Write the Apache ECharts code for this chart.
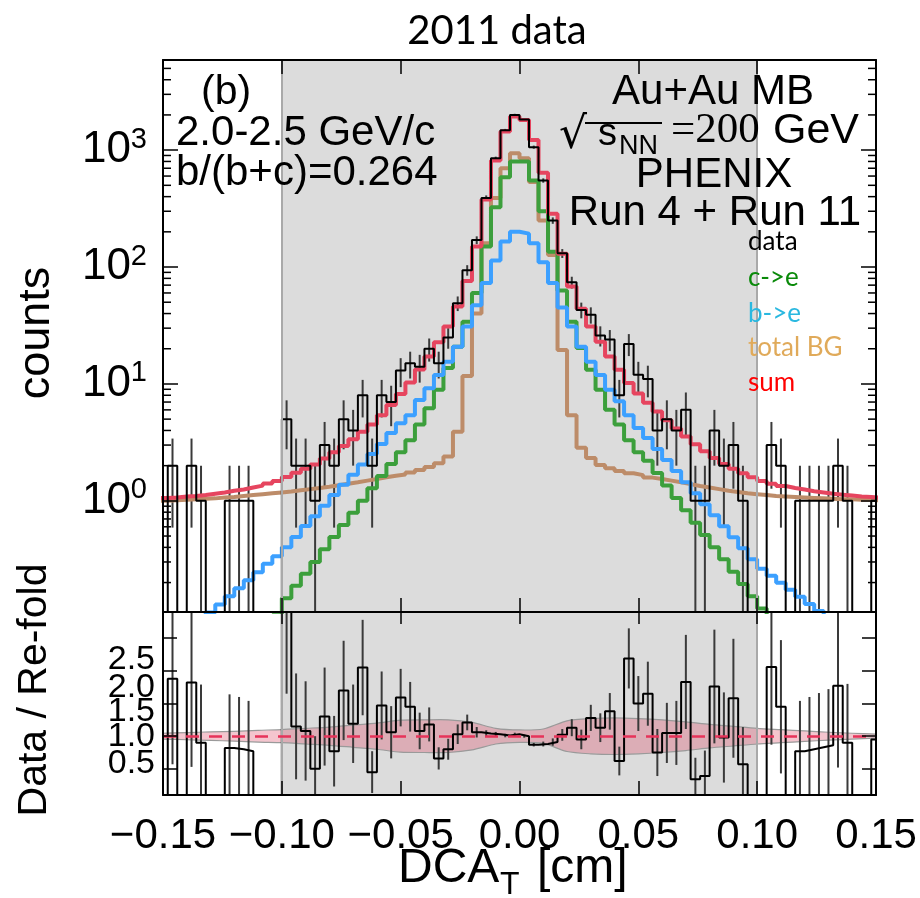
<!DOCTYPE html>
<html><head><meta charset="utf-8">
<script src="https://cdn.jsdelivr.net/npm/echarts@6/dist/echarts.min.js"></script>
<style>html,body{margin:0;padding:0;background:#fff}#c{width:920px;height:898px}</style>
</head><body><div id="c"></div>
<script>
// ---- binning (DCA_T, cm) ----
const binStart = -0.152;
const binWidth = 0.004;
// bins k = -38 .. 37 (lower edge = k*0.004)
const dataCounts = [0,2,0,2,1,0,0,1,1,1, 0,0,0,5,2,2,1,3,2,5, 4,8,2,8,7,13,15,14,20,15, 25,49,94,170,390,850,1480,2000,
  1830,1060,550,250,131,74,43,39,26,24, 8,22,12,11,4,5,4,6,1,1, 4,2,3,1,0,0,3,2,0,1, 1,1,1,2,1,0,0,1];
const dataErr = [0,1.41,0,1.41,1,0,0,1,1,1, 0,0,0,2.24,1.41,1.41,1,1.73,1.41,2.24, 2,2.83,1.41,2.83,2.65,3.61,3.87,3.74,4.47,3.87, 5,7,9.7,13,19.7,29.2,38.5,44.7,
  42.8,32.6,23.5,15.8,11.4,8.6,6.6,6.2,5.1,4.9, 2.83,4.69,3.46,3.32,2,2.24,2,2.45,1,1, 2,1.41,1.73,1,0,0,1.73,1.41,0,1, 1,1,1,1.41,1,0,0,1];
const sumFit = [1.06,1.07,1.09,1.10,1.12,1.15,1.18,1.22,1.25,1.30, 1.35,1.41,1.48,1.60,1.74,1.88,2.05,2.30,2.60,2.94, 3.36,3.9,4.5,5.4,6.6,8.2,10.3,13.3,17.2,22.7, 31,46,76,150,378,815,1440,1940,
  1810,1220,640,285,130,68,44,31,23,17.2, 13.2,10.2,8.3,6.9,5.8,4.9,4.15,3.55,3.05,2.65, 2.33,2.07,1.88,1.72,1.59,1.48,1.40,1.34,1.29,1.25, 1.21,1.18,1.15,1.13,1.11,1.09,1.08,1.06];
const bgTotal = [1.00,1.01,1.02,1.03,1.04,1.05,1.07,1.08,1.10,1.12, 1.14,1.16,1.18,1.20,1.23,1.26,1.29,1.32,1.36,1.40, 1.44,1.49,1.54,1.59,1.64,1.68,1.75,1.84,1.95,2.1, 2.4,3.9,11.7,40,160,390,700,940,
  850,533,250,127,19.5,5.4,2.84,2.33,2.03,1.9, 1.8,1.72,1.66,1.58,1.54,1.49,1.44,1.39,1.34,1.30, 1.26,1.22,1.19,1.16,1.14,1.12,1.10,1.09,1.08,1.07, 1.06,1.05,1.04,1.03,1.03,1.02,1.02,1.01];
const bToE = [0.05,0.058,0.068,0.08,0.094,0.111,0.130,0.153,0.179,0.209, 0.245,0.29,0.336,0.40,0.49,0.61,0.74,0.91,1.12,1.37, 1.67,2.05,2.52,3.07,3.8,4.6,5.4,7.3,9.2,11.9, 15.5,20.8,31,47,73,114,165,200,
  193,160,110,73,45,31,20.8,15.5,11.9,8.9, 7.1,5.4,4.2,3.45,2.78,2.24,1.80,1.44,1.16,0.935, 0.753,0.607,0.488,0.393,0.316,0.263,0.229,0.199,0.174,0.151, 0.131,0.114,0.099,0.086,0.075,0.065,0.056,0.049];
const cToE = [0.004,0.005,0.007,0.009,0.012,0.016,0.021,0.027,0.035,0.046, 0.06,0.075,0.105,0.147,0.188,0.238,0.30,0.385,0.49,0.62, 0.79,1.0,1.28,1.63,2.07,2.6,3.3,4.5,6.2,8.9, 13.7,20.8,34,60,150,325,585,800,
  800,550,300,135,63,34,20.3,13.2,8.9,6.0, 4.5,3.3,2.6,2.2,1.73,1.35,1.06,0.83,0.65,0.51, 0.40,0.316,0.247,0.194,0.153,0.12,0.094,0.074,0.058,0.045, 0.035,0.028,0.022,0.017,0.013,0.010,0.008,0.006];
const ratio = [0,1.88,0,1.82,0.90,0,0,0.82,0.80,0.77, 0,0,0,2.95,1.15,1.08,0.50,1.30,0.77,1.70, 1.19,2.05,0.45,1.47,1.06,1.59,1.45,1.08,1.18,0.66, 0.80,1.03,1.21,1.06,1.04,1.03,1.01,1.03,
  1.00,0.87,0.88,0.91,1.02,1.13,0.95,1.28,1.13,1.38, 0.62,2.19,1.50,1.65,0.75,1.05,1.05,1.83,0.34,0.39, 1.76,0.98,1.58,0.57,0,0,2.06,1.45,0,0.77, 0.80,0.83,0.86,1.77,0.90,0,0,0.95];
const ratioErr = [0,1.31,0,1.29,0.89,0,0,0.82,0.80,0.77, 0,0,0,1.30,0.81,0.76,0.50,0.75,0.54,0.76, 0.60,0.73,0.32,0.52,0.40,0.44,0.38,0.28,0.26,0.17, 0.16,0.15,0.12,0.08,0.05,0.035,0.027,0.023,
  0.023,0.027,0.037,0.056,0.09,0.13,0.15,0.20,0.22,0.28, 0.22,0.46,0.42,0.49,0.36,0.46,0.49,0.72,0.33,0.39, 0.87,0.69,0.91,0.57,0,0,1.19,1.02,0,0.77, 0.80,0.83,0.86,1.25,0.90,0,0,0.95];
// systematic band around 1 (half widths)
const bandX = [-0.15,-0.14,-0.13,-0.12,-0.11,-0.10,-0.09,-0.08,-0.07,-0.06,-0.05,-0.04,-0.03,-0.02,-0.01,0.00,0.01,0.02,0.03,0.04,0.05,0.06,0.07,0.08,0.09,0.10,0.11,0.12,0.13,0.14,0.15];
const bandHalf = [0.045,0.055,0.065,0.075,0.09,0.10,0.12,0.14,0.17,0.20,0.245,0.25,0.25,0.21,0.12,0.095,0.11,0.235,0.27,0.28,0.27,0.25,0.22,0.18,0.15,0.12,0.10,0.08,0.06,0.045,0.03];
const logMinorTicks = [0.2,0.3,0.4,0.5,0.6,0.7,0.8,0.9,2,3,4,5,6,7,8,9,20,30,40,50,60,70,80,90,200,300,400,500,600,700,800,900,2000,3000,4000,5000];
const ratioTickLabels = ['0.5','1.0','1.5','2.0','2.5'];
const legendItems = ['data','c->e','b->e','total BG','sum'];

// ---- helpers ----
const FLOOR = 1e-3;
function edge(i){ return binStart + i*binWidth; }
function center(i){ return binStart + (i+0.5)*binWidth; }
function stepPts(vals, logAxis){
  const p = vals.map((v,i)=>[edge(i), (logAxis && v<=0) ? FLOOR : (v<=0 ? 0 : v)]);
  p.push([edge(vals.length), p[p.length-1][1]]);
  return p;
}
const dataErrPts = [];
dataCounts.forEach((n,i)=>{ if(n>0){ const lo=n-dataErr[i]; dataErrPts.push([center(i), lo>0?lo:FLOOR, n+dataErr[i]]); }});
const ratioErrPts = [];
ratio.forEach((r,i)=>{ if(dataCounts[i]>0){ ratioErrPts.push([center(i), r-ratioErr[i], r+ratioErr[i]]); }});

const SANS = '"Liberation Sans", Arial, sans-serif';
const errRender = (color)=>function(params, api){
  const x=api.value(0), lo=api.value(1), hi=api.value(2);
  const a=api.coord([x,lo]), b=api.coord([x,hi]);
  return {type:'line', shape:{x1:a[0],y1:a[1],x2:b[0],y2:b[1]}, style:{stroke:color, lineWidth:2}};
};

const frameAxis = {
  type:'value', min:-0.15, max:0.15, interval:0.05, z:5,
  axisLine:{show:true, onZero:false, lineStyle:{color:'#000', width:2}},
  axisTick:{show:true, inside:true, length:14, lineStyle:{color:'#000', width:1.5}},
  axisLabel:{show:false}, splitLine:{show:false}
};
function xLabel(v){
  if (Math.abs(v) < 1e-9) return '0.00';
  return (v<0?'\u2212':'') + Math.abs(v).toFixed(2);
}
const yFrame = {
  axisLine:{show:true, onZero:false, lineStyle:{color:'#000', width:2}},
  axisTick:{show:true, inside:true, length:15, lineStyle:{color:'#000', width:1.5}},
  splitLine:{show:false}
};
// ROOT draws the crowded ratio labels slightly off their ticks: small per-label vertical offsets
const rLabStyle = {fontFamily:SANS, fontSize:34, color:'#000'};
const ratioRich = {
  r0:Object.assign({padding:[0,0,10,0]}, rLabStyle),
  r1:Object.assign({padding:[0,0,0,0]}, rLabStyle),
  r2:Object.assign({padding:[16,0,0,0]}, rLabStyle),
  r3:Object.assign({padding:[34,0,0,0]}, rLabStyle),
  r4:Object.assign({padding:[42,0,0,0]}, rLabStyle)
};
function ratioLabel(v){
  const s = v.toFixed(1); const i = ratioTickLabels.indexOf(s);
  return i < 0 ? '' : '{r'+i+'|'+s+'}';
}

const chart = echarts.init(document.getElementById('c'), null, {renderer:'canvas'});
const grayArea = {silent:true, itemStyle:{color:'#dcdcdc'}, data:[[{xAxis:-0.1},{xAxis:0.1}]]};
const grayEdges = {silent:true, symbol:'none', label:{show:false}, lineStyle:{color:'#a9a9a9', width:2, type:'solid'}, data:[{xAxis:-0.1},{xAxis:0.1}]};

chart.setOption({
  animation:false,
  backgroundColor:'#fff',
  grid:[
    {left:163, top:60, width:713, height:552, outerBoundsMode:'none', containLabel:false},
    {left:163, top:612, width:713, height:183, outerBoundsMode:'none', containLabel:false}
  ],
  xAxis:[
    Object.assign({}, frameAxis, {gridIndex:0, position:'bottom'}),
    Object.assign({}, frameAxis, {gridIndex:0, position:'top'}),
    Object.assign({}, frameAxis, {gridIndex:1, position:'bottom',
      axisLabel:{show:true, margin:20, formatter:xLabel, fontFamily:SANS, fontSize:42, color:'#000'}}),
    Object.assign({}, frameAxis, {gridIndex:1, position:'top', axisTick:{show:true, inside:true, length:12, lineStyle:{color:'#000', width:1.5}}})
  ],
  yAxis:[
    Object.assign({gridIndex:0, type:'log', logBase:10, min:0.112, max:5900, position:'left', z:5,
      axisLabel:{show:true, margin:16, showMinLabel:false, showMaxLabel:false,
        formatter:function(v){ const e=Math.log10(v); const r=Math.round(e); if(Math.abs(e-r)>1e-6) return ''; return '{b|10}{s|'+r+'}'; },
        rich:{b:{fontFamily:SANS, fontSize:44, color:'#000', lineHeight:50}, s:{fontFamily:SANS, fontSize:29, color:'#000', verticalAlign:'top', lineHeight:50}}}}, yFrame),
    Object.assign({gridIndex:0, type:'log', logBase:10, min:0.112, max:5900, position:'right', z:5, axisLabel:{show:false}}, yFrame),
    Object.assign({gridIndex:1, type:'value', min:0.1, max:2.9, splitNumber:5, position:'left', z:5,
      axisLabel:{show:true, margin:8, showMinLabel:false, showMaxLabel:false, formatter:ratioLabel, rich:ratioRich}},
      yFrame, {axisTick:{show:true, inside:true, length:14, lineStyle:{color:'#000', width:1.5}}}),
    Object.assign({gridIndex:1, type:'value', min:0.1, max:2.9, splitNumber:5, position:'right', z:5, axisLabel:{show:false}}, yFrame,
      {axisTick:{show:true, inside:true, length:14, lineStyle:{color:'#000', width:1.5}}})
  ],
  series:[
    // top panel
    {name:'total BG', type:'line', xAxisIndex:0, yAxisIndex:0, step:'end', symbol:'none', clip:true,
      data:stepPts(bgTotal,true), lineStyle:{color:'#bd8c69', width:4},
      markArea:grayArea, markLine:grayEdges},
    {name:'c->e', type:'line', xAxisIndex:0, yAxisIndex:0, step:'end', symbol:'none', clip:true,
      data:stepPts(cToE,true), lineStyle:{color:'#3c9f3c', width:4}},
    {name:'b->e', type:'line', xAxisIndex:0, yAxisIndex:0, step:'end', symbol:'none', clip:true,
      data:stepPts(bToE,true), lineStyle:{color:'#3ca0ff', width:4}},
    {name:'sum', type:'line', xAxisIndex:0, yAxisIndex:0, step:'end', symbol:'none', clip:true,
      data:stepPts(sumFit,true), lineStyle:{color:'#e6455f', width:4}},
    {name:'data err', type:'custom', xAxisIndex:0, yAxisIndex:0, clip:true,
      data:dataErrPts, encode:{x:0, y:[1,2]}, renderItem:errRender('#3a3a3a')},
    {name:'data', type:'line', xAxisIndex:0, yAxisIndex:0, step:'end', symbol:'none', clip:true,
      data:stepPts(dataCounts,true), lineStyle:{color:'#000', width:2}},
    {name:'minor ticks', type:'custom', xAxisIndex:0, yAxisIndex:0, clip:false, z:6, silent:true,
      data:logMinorTicks.map(v=>[-0.15, v]), encode:{x:0, y:1},
      renderItem:function(params, api){
        const v=api.value(1); const l=api.coord([-0.15,v]); const r=api.coord([0.15,v]);
        return {type:'group', children:[
          {type:'line', shape:{x1:l[0],y1:l[1],x2:l[0]+8,y2:l[1]}, style:{stroke:'#000', lineWidth:1.5}},
          {type:'line', shape:{x1:r[0],y1:r[1],x2:r[0]-8,y2:r[1]}, style:{stroke:'#000', lineWidth:1.5}}
        ]};
      }},
    // bottom panel
    {name:'syst band', type:'custom', xAxisIndex:2, yAxisIndex:2, clip:true, silent:true,
      data:[[0,1]], encode:{x:0, y:1},
      markArea:grayArea, markLine:grayEdges,
      renderItem:function(params, api){
        const up = bandX.map((x,i)=>api.coord([x, 1+bandHalf[i]]));
        const lo = bandX.map((x,i)=>api.coord([x, 1-bandHalf[i]]));
        const poly = up.concat(lo.slice().reverse());
        return {type:'group', children:[
          {type:'polygon', shape:{points:poly, smooth:0.25}, style:{fill:'rgba(222,80,105,0.33)', stroke:null}},
          {type:'polyline', shape:{points:up, smooth:0.25}, style:{stroke:'#9a9a9a', lineWidth:1.2, fill:null}},
          {type:'polyline', shape:{points:lo, smooth:0.25}, style:{stroke:'#9a9a9a', lineWidth:1.2, fill:null}}
        ]};
      }},
    {name:'ratio err', type:'custom', xAxisIndex:2, yAxisIndex:2, clip:true,
      data:ratioErrPts, encode:{x:0, y:[1,2]}, renderItem:errRender('#3a3a3a')},
    {name:'ratio', type:'line', xAxisIndex:2, yAxisIndex:2, step:'end', symbol:'none', clip:true,
      data:stepPts(ratio,false), lineStyle:{color:'#000', width:2},
      markLine:{silent:true, symbol:'none', label:{show:false}, lineStyle:{color:'#e6335a', width:2.5, type:[13,10]}, data:[{yAxis:1}]}}
  ],
  graphic:[
    {type:'text', x:497, y:31, z:10, style:{text:'2011 data', font:'40px Lato', fill:'#000', textAlign:'center', textVerticalAlign:'middle', verticalAlign:'middle'}},
    {type:'text', x:201, y:93, z:10, style:{text:'(b)', font:'41px '+SANS, fill:'#000', textAlign:'left', textVerticalAlign:'middle', verticalAlign:'middle'}},
    {type:'text', x:176, y:133, z:10, style:{text:'2.0-2.5 GeV/c', font:'42px '+SANS, fill:'#000', textAlign:'left', textVerticalAlign:'middle', verticalAlign:'middle'}},
    {type:'text', x:176, y:173, z:10, style:{text:'b/(b+c)=0.264', font:'42px '+SANS, fill:'#000', textAlign:'left', textVerticalAlign:'middle', verticalAlign:'middle'}},
    {type:'text', x:713, y:92, z:10, style:{text:'Au+Au MB', font:'42px '+SANS, fill:'#000', textAlign:'center', textVerticalAlign:'middle', verticalAlign:'middle'}},
    {type:'text', x:559, y:137, z:10, style:{text:'\u221A', font:'44px "DejaVu Sans"', fill:'#000', textAlign:'left', textVerticalAlign:'middle', verticalAlign:'middle'}},
    {type:'line', z:10, shape:{x1:585, y1:123, x2:662, y2:123}, style:{stroke:'#000', lineWidth:2}},
    {type:'text', x:598, y:135, z:10, style:{text:'s', font:'38px '+SANS, fill:'#000', textAlign:'left', textVerticalAlign:'middle', verticalAlign:'middle'}},
    {type:'text', x:619, y:147, z:10, style:{text:'NN', font:'27px '+SANS, fill:'#000', textAlign:'left', textVerticalAlign:'middle', verticalAlign:'middle'}},
    {type:'text', x:671, y:131, z:10, style:{text:'=200', font:'43px "Liberation Serif"', fill:'#000', textAlign:'left', textVerticalAlign:'middle', verticalAlign:'middle'}},
    {type:'text', x:773, y:131, z:10, style:{text:'GeV', font:'43px '+SANS, fill:'#000', textAlign:'left', textVerticalAlign:'middle', verticalAlign:'middle'}},
    {type:'text', x:714, y:175, z:10, style:{text:'PHENIX', font:'42px '+SANS, fill:'#000', textAlign:'center', textVerticalAlign:'middle', verticalAlign:'middle'}},
    {type:'text', x:715, y:213, z:10, style:{text:'Run 4 + Run 11', font:'42px '+SANS, fill:'#000', textAlign:'center', textVerticalAlign:'middle', verticalAlign:'middle'}},
    {type:'text', x:748, y:242, z:10, style:{text:legendItems[0], font:'26px Lato', fill:'#000', textAlign:'left', textVerticalAlign:'middle', verticalAlign:'middle'}},
    {type:'text', x:748, y:278, z:10, style:{text:legendItems[1], font:'26px Lato', fill:'#0a8a0a', textAlign:'left', textVerticalAlign:'middle', verticalAlign:'middle'}},
    {type:'text', x:748, y:314, z:10, style:{text:legendItems[2], font:'26px Lato', fill:'#2ab8e0', textAlign:'left', textVerticalAlign:'middle', verticalAlign:'middle'}},
    {type:'text', x:748, y:348, z:10, style:{text:legendItems[3], font:'26px Lato', fill:'#e0aa5a', textAlign:'left', textVerticalAlign:'middle', verticalAlign:'middle'}},
    {type:'text', x:748, y:383, z:10, style:{text:legendItems[4], font:'26px Lato', fill:'#ff0000', textAlign:'left', textVerticalAlign:'middle', verticalAlign:'middle'}},
    {type:'text', x:37, y:333, rotation:Math.PI/2, z:10, style:{text:'counts', font:'45px '+SANS, fill:'#000', textAlign:'center', textVerticalAlign:'middle', verticalAlign:'middle'}},
    {type:'text', x:35, y:690, rotation:Math.PI/2, z:10, style:{text:'Data / Re-fold', font:'41px '+SANS, fill:'#000', textAlign:'center', textVerticalAlign:'middle', verticalAlign:'middle'}},
    {type:'text', x:398, y:869, z:10, style:{text:'DCA', font:'48px '+SANS, fill:'#000', textAlign:'left', textVerticalAlign:'middle', verticalAlign:'middle'}},
    {type:'text', x:500, y:885, z:10, style:{text:'T', font:'32px '+SANS, fill:'#000', textAlign:'left', textVerticalAlign:'middle', verticalAlign:'middle'}},
    {type:'text', x:537, y:869, z:10, style:{text:'[cm]', font:'48px '+SANS, fill:'#000', textAlign:'left', textVerticalAlign:'middle', verticalAlign:'middle'}}
  ]
});
</script>
</body></html>
